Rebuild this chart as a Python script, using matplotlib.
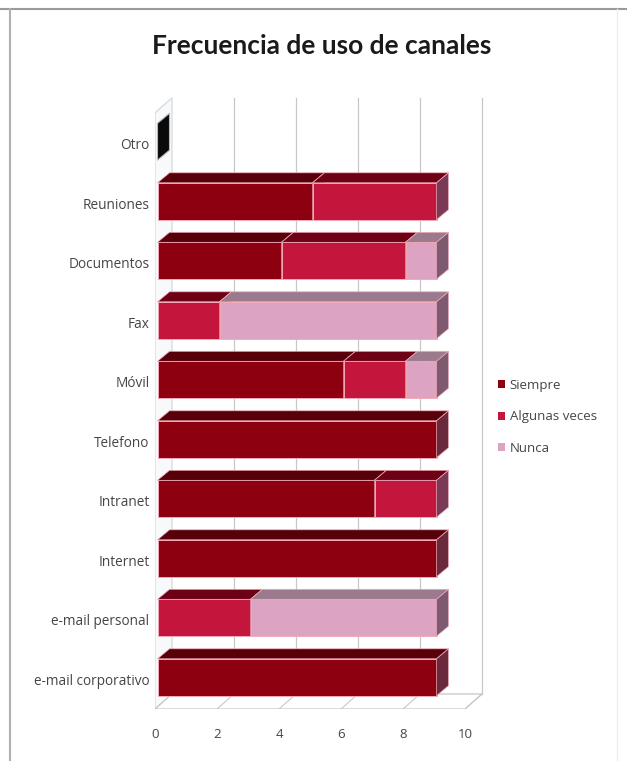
import matplotlib
matplotlib.use('Agg')
import matplotlib.pyplot as plt
from matplotlib.patches import Polygon, Patch
from matplotlib.lines import Line2D
from matplotlib import font_manager

categorias = ["e-mail corporativo", "e-mail personal", "Internet", "Intranet", "Telefono",
              "Móvil", "Fax", "Documentos", "Reuniones", "Otro"]
siempre = [9, 0, 9, 7, 9, 6, 0, 4, 5, 0]
algunas_veces = [0, 3, 0, 2, 0, 2, 2, 4, 4, 0]
nunca = [0, 6, 0, 0, 0, 1, 7, 1, 0, 0]
series_nombres = ["Siempre", "Algunas veces", "Nunca"]
xticks = [0, 2, 4, 6, 8, 10]
titulo = "Frecuencia de uso de canales"

# front / top / side colours for each series
col_front = ['#8c0010', '#c4153c', '#dca3c3']
col_top = ['#58000a', '#6e0016', '#9c7a8e']
col_side = ['#6b2a3c', '#7a3a55', '#7e5a70']
edge = '#f2aab8'

instalados = {f.name for f in font_manager.fontManager.ttflist}
fam = [f for f in ['Liberation Sans Narrow', 'Open Sans', 'DejaVu Sans'] if f in instalados]
plt.rcParams['font.family'] = fam
fam_titulo = [f for f in ['Lato', 'Open Sans', 'DejaVu Sans'] if f in instalados]

W, H = 627, 761
fig = plt.figure(figsize=(W / 100, H / 100), dpi=100)

# axes placed in pixels: x 0 -> 155px, 31 px per unit; categories 59.5 px apart
x0, ppx = 155, 31.0
ybot, ppy = 709, 59.5
xlim = (0, 11.2)
ylim = (-0.5, 10.0)
ax = fig.add_axes([x0 / W, (H - ybot) / H,
                   (xlim[1] - xlim[0]) * ppx / W, (ylim[1] - ylim[0]) * ppy / H])
ax.set_xlim(*xlim)
ax.set_ylim(*ylim)
for s in ax.spines.values():
    s.set_visible(False)

# wall depth
dxw, dyw = 17 / ppx, 15 / ppy
ytop = 9.52
grid = '#c8c8c8'

# left wall
ax.add_patch(Polygon([(0, -0.5), (dxw, -0.5 + dyw), (dxw, ytop + dyw), (0, ytop)],
                     closed=True, facecolor='#f7f9fa', edgecolor='#cfd6da', lw=0.8, zorder=1))
# floor
ax.add_patch(Polygon([(0, -0.5), (10, -0.5), (10 + dxw, -0.5 + dyw), (dxw, -0.5 + dyw)],
                     closed=True, facecolor='white', edgecolor='#c0c0c0', lw=0.8, zorder=1))
for v in xticks[1:]:
    ax.plot([v + dxw, v + dxw], [-0.5 + dyw, ytop + dyw], color=grid, lw=0.9, zorder=1)
    ax.plot([v, v + dxw], [-0.5, -0.5 + dyw], color=grid, lw=0.8, zorder=1)

# 3D bars
bh = 0.31
ox, oy = 2.5 / ppx, 2.0 / ppy
dxb, dyb = 12 / ppx, 10 / ppy
datos = [siempre, algunas_veces, nunca]
for i in range(len(categorias)):
    left = 0.0
    y0, y1 = i - bh + oy, i + bh + oy
    z = 3
    for k, vals in enumerate(datos):
        w = vals[i]
        if w <= 0:
            continue
        a, b = left + ox, left + w + ox
        ax.add_patch(Polygon([(a, y0), (b, y0), (b, y1), (a, y1)], closed=True,
                             facecolor=col_front[k], edgecolor=edge, lw=0.7, zorder=z))
        ax.add_patch(Polygon([(a, y1), (b, y1), (b + dxb, y1 + dyb), (a + dxb, y1 + dyb)],
                             closed=True, facecolor=col_top[k], edgecolor=edge, lw=0.5, zorder=z))
        ax.add_patch(Polygon([(b, y0), (b + dxb, y0 + dyb), (b + dxb, y1 + dyb), (b, y1)],
                             closed=True, facecolor=col_side[k], edgecolor=edge, lw=0.5, zorder=z))
        left += w
        z += 1
    if left == 0:
        # empty row: only the end cap shows
        a = ox
        ax.add_patch(Polygon([(a, y0), (a + dxb, y0 + dyb), (a + dxb, y1 + dyb), (a, y1)],
                             closed=True, facecolor='#0a0a0a', edgecolor='#b8b8b8', lw=0.8, zorder=z))

ax.set_yticks(range(len(categorias)))
ax.set_yticklabels(categorias)
ax.set_xticks(xticks)
ax.set_xticklabels([str(v) for v in xticks])
ax.tick_params(axis='y', length=0, pad=4, labelsize=9.8, labelcolor='#454545')
ax.tick_params(axis='x', length=0, pad=14, labelsize=9.5, labelcolor='#454545')

fig.text(322 / W, 1 - 46 / H, titulo, ha='center', va='center', fontsize=19,
         fontweight='bold', color='#1a1a1a', family=fam_titulo)

handles = [Patch(facecolor=col_front[k], edgecolor='none') for k in range(3)]
fig.legend(handles, series_nombres, loc='upper left', bbox_to_anchor=(486 / W, 1 - 367 / H),
           frameon=False, fontsize=9.5, labelcolor='#454545', handlelength=0.55, handleheight=0.55,
           handletextpad=0.35, labelspacing=1.4)

# frame lines
fig.add_artist(Line2D([0, 1], [1 - 9 / H, 1 - 9 / H], color='#9a9a9a', lw=1.5))
fig.add_artist(Line2D([10 / W, 10 / W], [0, 1 - 9 / H], color='#b0b0b0', lw=1.5))
fig.add_artist(Line2D([617 / W, 617 / W], [0, 1 - 9 / H], color='#eeeeee', lw=1))

fig.savefig('out.png', dpi=100)
